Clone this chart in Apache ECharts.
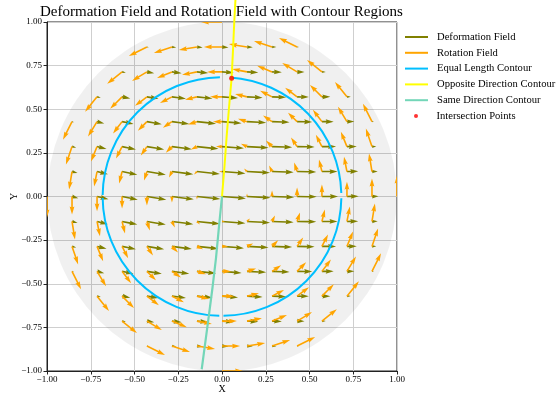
<!DOCTYPE html>
<html>
<head>
<meta charset="utf-8">
<script src="https://cdn.jsdelivr.net/npm/echarts@6/dist/echarts.min.js"></script>
<style>html,body{margin:0;padding:0;background:#fff}#c{width:560px;height:394px}</style>
</head>
<body>
<div id="c"></div>
<script>
// ---- data ----
const gridVals = [-1, -0.857, -0.714, -0.571, -0.429, -0.286, -0.143, 0, 0.143, 0.286, 0.429, 0.571, 0.714, 0.857, 1];
const tickVals = [-1, -0.75, -0.5, -0.25, 0, 0.25, 0.5, 0.75, 1];
const n = null;
// deformation arrow length per grid point (rows: y = -1 ... 1, cols: x = -1 ... 1)
const defLength = [
  [n,n,n,n,n,n,n,0.00,n,n,n,n,n,n,n],
  [n,n,n,n,0.08,0.18,0.24,0.27,0.24,0.18,0.08,n,n,n,n],
  [n,n,n,0.16,0.31,0.41,0.47,0.49,0.47,0.41,0.31,0.16,n,n,n],
  [n,n,0.16,0.35,0.49,0.59,0.65,0.67,0.65,0.59,0.49,0.35,0.16,n,n],
  [n,0.08,0.31,0.49,0.63,0.73,0.80,0.82,0.80,0.73,0.63,0.49,0.31,0.08,n],
  [n,0.18,0.41,0.59,0.73,0.84,0.90,0.92,0.90,0.84,0.73,0.59,0.41,0.18,n],
  [n,0.24,0.47,0.65,0.80,0.90,0.96,0.98,0.96,0.90,0.80,0.65,0.47,0.24,n],
  [0.00,0.27,0.49,0.67,0.82,0.92,0.98,1.00,0.98,0.92,0.82,0.67,0.49,0.27,0.00],
  [n,0.24,0.47,0.65,0.80,0.90,0.96,0.98,0.96,0.90,0.80,0.65,0.47,0.24,n],
  [n,0.18,0.41,0.59,0.73,0.84,0.90,0.92,0.90,0.84,0.73,0.59,0.41,0.18,n],
  [n,0.08,0.31,0.49,0.63,0.73,0.80,0.82,0.80,0.73,0.63,0.49,0.31,0.08,n],
  [n,n,0.16,0.35,0.49,0.59,0.65,0.67,0.65,0.59,0.49,0.35,0.16,n,n],
  [n,n,n,0.16,0.31,0.41,0.47,0.49,0.47,0.41,0.31,0.16,n,n,n],
  [n,n,n,n,0.08,0.18,0.24,0.27,0.24,0.18,0.08,n,n,n,n],
  [n,n,n,n,n,n,n,0.00,n,n,n,n,n,n,n]
];
// deformation arrow direction per column (degrees)
const defAngle = [-16, -15, -14, -11.5, -9.5, -7.5, -6, -4.5, -3, -2, -1, 0, 1, 1.5, 2];
// rotation field: horizontal component per row, vertical component per column
const rotRowU = [1.00, 0.86, 0.71, 0.57, 0.43, 0.29, 0.14, 0.00, -0.14, -0.29, -0.43, -0.57, -0.71, -0.86, -1.00];
const rotColV = [-1.00, -0.86, -0.71, -0.57, -0.43, -0.29, -0.14, 0.00, 0.14, 0.29, 0.43, 0.57, 0.71, 0.86, 1.00];
// contours
const equalRadius = 0.683;
const equalArcs = [[1.7, 86], [91, 179.3], [180.7, 268.7], [270.7, 359.2]]; // degrees
const oppositeX = [0, 0.014, 0.027, 0.041, 0.055, 0.063, 0.070, 0.077];
const oppositeY = [0, 0.17, 0.35, 0.52, 0.68, 0.84, 1.00, 1.13];
const sameX = [0, -0.017, -0.034, -0.054, -0.076, -0.096, -0.116];
const sameY = [0, -0.17, -0.35, -0.52, -0.69, -0.84, -0.99];
const intersectX = [0.055];
const intersectY = [0.678];
const regionRadius = 1.0;

// ---- build ----
const SERIF = 'Liberation Serif, Times New Roman, serif';
const defData = [], rotData = [];
for (let r = 0; r < gridVals.length; r++) {
  for (let c = 0; c < gridVals.length; c++) {
    const L = defLength[r][c];
    if (L === null) continue;
    const a = defAngle[c] * Math.PI / 180;
    defData.push([gridVals[c], gridVals[r], L * Math.cos(a), L * Math.sin(a)]);
    rotData.push([gridVals[c], gridVals[r], rotRowU[r], rotColV[c]]);
  }
}
function arrowPts(p0, p1, w) {
  const dx = p1[0] - p0[0], dy = p1[1] - p0[1];
  const L = Math.hypot(dx, dy);
  if (L < 0.3) return null;
  const hl = 5 * w, hal = 4.5 * w, hw = 1.5 * w, sw = 0.5 * w;
  let s = 1, len = L;
  if (L < hl) { s = L / hl; len = hl; }
  const ux = dx / L, uy = dy / L;
  const pts = [[0, -sw], [len - hal, -sw], [len - hl, -hw], [len, 0], [len - hl, hw], [len - hal, sw], [0, sw]];
  return pts.map(q => [p0[0] + s * (q[0] * ux - q[1] * uy), p0[1] + s * (q[0] * uy + q[1] * ux)]);
}
function quiver(scale, color) {
  return function (params, api) {
    const x = api.value(0), y = api.value(1), u = api.value(2), v = api.value(3);
    const p0 = api.coord([x, y]);
    const p1 = api.coord([x + u * scale, y + v * scale]);
    const pts = arrowPts(p0, p1, 1.6);
    if (!pts) return null;
    return { type: 'polygon', shape: { points: pts }, style: { fill: color } };
  };
}
const arcData = equalArcs.map(a => [0, 0, equalRadius, a[0], a[1]]);

const chart = echarts.init(document.getElementById('c'), null, { renderer: 'canvas' });
const fmt = v => (v < 0 ? '\u2212' : '') + Math.abs(v).toFixed(2);
chart.setOption({
  animation: false,
  backgroundColor: '#fff',
  title: {
    text: 'Deformation Field and Rotation Field with Contour Regions',
    left: 40, top: 5, padding: 0,
    textStyle: { fontFamily: SERIF, fontSize: 15, fontWeight: 'normal', color: '#000' }
  },
  legend: [{
    orient: 'vertical', left: 405, top: 30, padding: 0, itemGap: 1.8,
    itemWidth: 23, itemHeight: 2,
    textStyle: { fontFamily: SERIF, fontSize: 10.6, color: '#000', lineHeight: 14, padding: [0, 0, 0, 4] },
    data: [
      { name: 'Deformation Field', icon: 'rect' },
      { name: 'Rotation Field', icon: 'rect' },
      { name: 'Equal Length Contour', icon: 'rect' },
      { name: 'Opposite Direction Contour', icon: 'rect' },
      { name: 'Same Direction Contour', icon: 'rect' }
    ]
  }, {
    orient: 'vertical', left: 414, top: 109, padding: 0,
    itemWidth: 23, itemHeight: 4,
    textStyle: { fontFamily: SERIF, fontSize: 10.6, color: '#000', lineHeight: 14, padding: [0, 0, 0, 4] },
    data: [{ name: 'Intersection Points', icon: 'circle' }]
  }],
  grid: { left: 47, right: 163, top: 22, bottom: 23, outerBoundsMode: 'none', containLabel: false,
          show: true, borderColor: '#222', borderWidth: 1, backgroundColor: 'transparent' },
  xAxis: {
    type: 'value', min: -1, max: 1, interval: 0.25,
    name: 'X', nameLocation: 'middle', nameGap: 13, nameMoveOverlap: false,
    nameTextStyle: { fontFamily: SERIF, fontSize: 10, color: '#000', verticalAlign: 'top', lineHeight: 10 },
    axisLine: { show: true, onZero: false, lineStyle: { color: '#222', width: 1 } },
    axisTick: { show: true, length: 3.5, lineStyle: { color: '#222' } },
    axisLabel: { formatter: fmt, fontFamily: SERIF, fontSize: 9, color: '#000', margin: 4 },
    splitLine: { show: true, lineStyle: { color: '#cfcfcf', width: 1 } }
  },
  yAxis: {
    type: 'value', min: -1, max: 1, interval: 0.25,
    name: 'Y', nameLocation: 'middle', nameGap: 28, nameRotate: 90, nameMoveOverlap: false,
    nameTextStyle: { fontFamily: SERIF, fontSize: 10, color: '#000' },
    axisLine: { show: true, onZero: false, lineStyle: { color: '#222', width: 1 } },
    axisTick: { show: true, length: 3.5, lineStyle: { color: '#222' } },
    axisLabel: { formatter: fmt, fontFamily: SERIF, fontSize: 9, color: '#000', margin: 5 },
    splitLine: { show: true, lineStyle: { color: '#cfcfcf', width: 1 } }
  },
  series: [
    {
      type: 'custom', name: 'Region', z: 1, silent: true, clip: true,
      data: [[0, 0, regionRadius]],
      renderItem: (params, api) => {
        const c = api.coord([api.value(0), api.value(1)]);
        const s = api.size([api.value(2), api.value(2)]);
        return { type: 'circle', shape: { cx: c[0], cy: c[1], r: (s[0] + s[1]) / 2 }, style: { fill: 'rgba(0,0,0,0.06)' } };
      }
    },
    {
      type: 'custom', name: 'Deformation Field', z: 3, clip: true,
      itemStyle: { color: '#808000' },
      data: defData, renderItem: quiver(0.137, '#808000')
    },
    {
      type: 'custom', name: 'Rotation Field', z: 4, clip: true,
      itemStyle: { color: '#FFA500' },
      data: rotData, renderItem: quiver(0.12, '#FFA500')
    },
    {
      type: 'custom', name: 'Equal Length Contour', z: 5,
      itemStyle: { color: '#00BFFF' },
      data: arcData,
      renderItem: (params, api) => {
        const c = api.coord([api.value(0), api.value(1)]);
        const s = api.size([api.value(2), api.value(2)]);
        const r = (s[0] + s[1]) / 2;
        const a0 = api.value(3) * Math.PI / 180, a1 = api.value(4) * Math.PI / 180;
        return { type: 'arc', shape: { cx: c[0], cy: c[1], r: r, startAngle: -a1, endAngle: -a0, clockwise: true },
                 style: { stroke: '#00BFFF', fill: null, lineWidth: 2 } };
      }
    },
    {
      type: 'line', name: 'Opposite Direction Contour', z: 6, clip: false,
      showSymbol: false, symbol: 'none', smooth: false,
      lineStyle: { color: '#FFFF00', width: 2 }, itemStyle: { color: '#FFFF00' },
      data: oppositeX.map((x, i) => [x, oppositeY[i]])
    },
    {
      type: 'line', name: 'Same Direction Contour', z: 6, clip: false,
      showSymbol: false, symbol: 'none',
      lineStyle: { color: '#73D6B8', width: 2.2 }, itemStyle: { color: '#73D6B8' },
      data: sameX.map((x, i) => [x, sameY[i]])
    },
    {
      type: 'scatter', name: 'Intersection Points', z: 7,
      symbol: 'circle', symbolSize: 5, itemStyle: { color: '#FF0000' },
      data: intersectX.map((x, i) => [x, intersectY[i]])
    }
  ]
});
</script>
</body>
</html>
